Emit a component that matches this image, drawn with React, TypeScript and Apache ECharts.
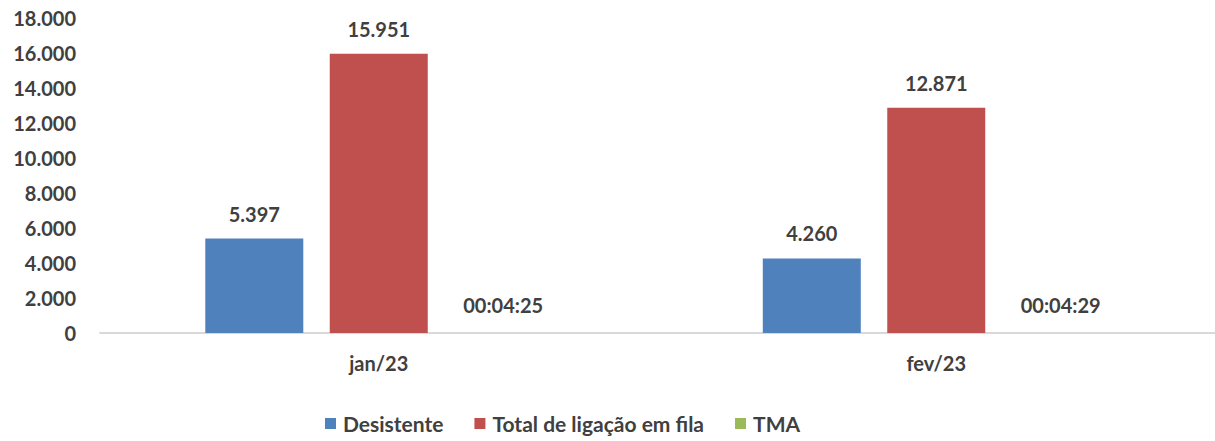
import React, { useEffect, useRef } from "react";
import * as echarts from "echarts";

const categories = ["jan/23", "fev/23"];
const desistente = [5397, 4260];
const totalFila = [15951, 12871];
const tmaLabels = ["00:04:25", "00:04:29"];
const tmaSeconds = [265, 269];
const yTicks = { min: 0, max: 18000, interval: 2000 };

const FONT = "Lato";
const TEXT = "#404040";

const fmt = (v: number) => v.toLocaleString("de-DE");

export default function App() {
  const ref = useRef<HTMLDivElement>(null);
  useEffect(() => {
    if (!ref.current) return;
    const chart = echarts.init(ref.current, null, { renderer: "svg" });
    const labelBase = {
      show: true,
      position: "top" as const,
      distance: 15,
      fontFamily: FONT,
      fontWeight: "bold" as const,
      fontSize: 20,
      color: TEXT,
    };
    chart.setOption({
      animation: false,
      textStyle: { fontFamily: FONT },
      grid: { left: 100, right: -4, top: 18, bottom: 108, containLabel: false },
      legend: {
        bottom: 2,
        left: 320,
        itemWidth: 11,
        itemHeight: 11,
        itemGap: 31,
        icon: "rect",
        textStyle: { fontFamily: FONT, fontWeight: "bold", fontSize: 21, color: TEXT, padding: [0, 0, 0, 2] },
        data: ["Desistente", "Total de ligação em fila", "TMA"],
      },
      xAxis: {
        type: "category",
        data: categories,
        axisLine: { lineStyle: { color: "#d9d9d9", width: 2 } },
        axisTick: { show: false },
        axisLabel: {
          margin: 20,
          fontFamily: FONT,
          fontWeight: "bold",
          fontSize: 20,
          color: TEXT,
        },
      },
      yAxis: {
        type: "value",
        min: yTicks.min,
        max: yTicks.max,
        interval: yTicks.interval,
        splitLine: { show: false },
        axisLine: { show: false },
        axisTick: { show: false },
        axisLabel: {
          margin: 24,
          fontFamily: FONT,
          fontWeight: "bold",
          fontSize: 20,
          color: TEXT,
          formatter: (v: number) => fmt(v),
        },
      },
      series: [
        {
          name: "Desistente",
          type: "bar",
          data: desistente,
          barWidth: 98,
          barGap: "27%",
          itemStyle: { color: "#4F81BD" },
          label: { ...labelBase, formatter: (p: any) => fmt(p.value) },
        },
        {
          name: "Total de ligação em fila",
          type: "bar",
          data: totalFila,
          barWidth: 98,
          barGap: "27%",
          itemStyle: { color: "#C0504D" },
          label: { ...labelBase, formatter: (p: any) => fmt(p.value) },
        },
        {
          name: "TMA",
          type: "bar",
          data: tmaSeconds.map((s) => s / 86400),
          barWidth: 98,
          barGap: "27%",
          itemStyle: { color: "#9BBB59" },
          label: { ...labelBase, distance: 18, formatter: (p: any) => tmaLabels[p.dataIndex] },
        },
      ],
    });
    return () => chart.dispose();
  }, []);
  return (
    <div
      ref={ref}
      style={{ position: "absolute", left: 0, top: 0, width: 1215, height: 441, background: "#fff" }}
    />
  );
}
